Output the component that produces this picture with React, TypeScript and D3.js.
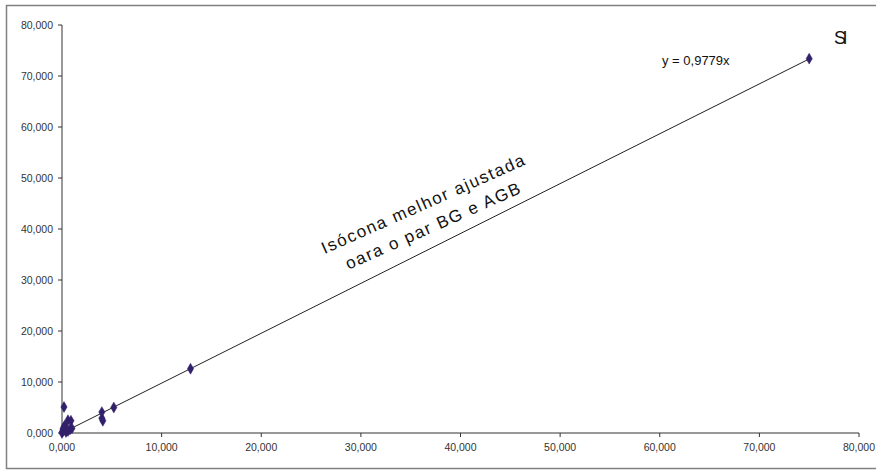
import React from "react";
import * as d3 from "d3";

const xValues = [0, 50, 100, 200, 300, 150, 400, 600, 800, 1000, 250, 200, 600, 900, 4000, 5200, 4000, 4100, 12900, 75000];
const yValues = [0, 300, 800, 1200, 1500, 500, 200, 400, 700, 900, 900, 5100, 2500, 2400, 4100, 5000, 2900, 2400, 12600, 73400];
const tickValues = [0, 10000, 20000, 30000, 40000, 50000, 60000, 70000, 80000];
const slope = 0.9779;
const equationLabel = "y = 0,9779x";
const annotationLines = ["Isócona melhor ajustada", "oara o par BG e AGB"];
const pointLabel = "SI";

const W = 876;
const H = 472;
const fmt = (v: number) => d3.format(",")(v / 1000) + ",000";

export default function App() {
  const x = d3.scaleLinear().domain([0, 80000]).range([62, 859]);
  const y = d3.scaleLinear().domain([0, 80000]).range([433, 25]);
  const diamond = d3.symbol().type(d3.symbolDiamond).size(34)();
  const line = d3.line<number>().x((d) => x(d)).y((d) => y(slope * d));
  const font = "'Liberation Sans', Arial, sans-serif";
  return (
    <svg width={W} height={H} style={{ position: "absolute", left: 0, top: 0 }} fontFamily={font}>
      <rect x={0} y={0} width={W} height={H} fill="#fff" />
      <rect x={6.5} y={5.5} width={875} height={463} fill="none" stroke="#808080" strokeWidth={1.5} />
      <line x1={x(0)} x2={x(0)} y1={y(80000)} y2={y(0)} stroke="#333" strokeWidth={1} />
      <line x1={x(0)} x2={x(80000)} y1={y(0)} y2={y(0)} stroke="#333" strokeWidth={1} />
      {tickValues.map((t) => (
        <g key={"y" + t}>
          <line x1={x(0) - 4} x2={x(0)} y1={y(t)} y2={y(t)} stroke="#333" />
          <text x={x(0) - 9} y={y(t) + 4} textAnchor="end" fontSize={10.5} fill="#333">
            {fmt(t)}
          </text>
        </g>
      ))}
      {tickValues.map((t) => (
        <g key={"x" + t}>
          <line x1={x(t)} x2={x(t)} y1={y(0)} y2={y(0) + 4} stroke="#333" />
          <text x={x(t)} y={y(0) + 18} textAnchor="middle" fontSize={10.5} fill="#333">
            {fmt(t)}
          </text>
        </g>
      ))}
      <path d={line([0, d3.max(xValues) as number]) || ""} fill="none" stroke="#222" strokeWidth={1} />
      {xValues.map((xv, i) => (
        <path
          key={i}
          d={diamond || ""}
          transform={`translate(${x(xv)},${y(yValues[i])})`}
          fill="#33206b"
          stroke="#33206b"
          strokeWidth={0.5}
        />
      ))}
      <text x={662} y={65} fontSize={13} fill="#111">
        {equationLabel}
      </text>
      <text x={834} y={44} fontSize={18} fill="#111" letterSpacing={-3.5}>
        {pointLabel}
      </text>
      <g transform="translate(426,209) rotate(-24)" fill="#111" fontSize={17}>
        <text x={0} y={0} textAnchor="middle" letterSpacing={1.6}>
          {annotationLines[0]}
        </text>
        <text x={0} y={24} textAnchor="middle" letterSpacing={1.6}>
          {annotationLines[1]}
        </text>
      </g>
    </svg>
  );
}
